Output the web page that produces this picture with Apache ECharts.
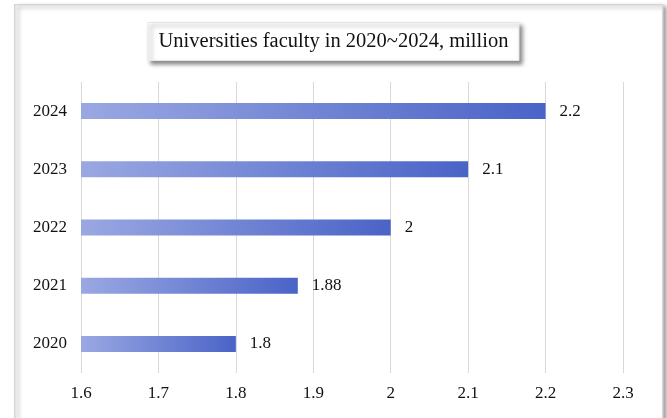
<!DOCTYPE html>
<html>
<head>
<meta charset="utf-8">
<script src="https://cdn.jsdelivr.net/npm/echarts@6/dist/echarts.min.js"></script>
<style>
html,body{margin:0;padding:0;background:#fff;}
#main{width:667px;height:418px;}
</style>
</head>
<body>
<div id="main"></div>
<script>
const titleText = 'Universities faculty in 2020~2024, million';
const categories = ['2020', '2021', '2022', '2023', '2024'];
const values = [1.8, 1.88, 2, 2.1, 2.2];
const xTicks = [1.6, 1.7, 1.8, 1.9, 2, 2.1, 2.2, 2.3];

const chart = echarts.init(document.getElementById('main'), null, {renderer: 'canvas'});
const font = 'Liberation Serif, Times New Roman, serif';
chart.setOption({
  animation: false,
  graphic: [{
    type: 'rect',
    left: 14, top: 4, z: -10,
    shape: {x: 0, y: 0, width: 648, height: 430},
    style: {fill: '#fff', stroke: '#d6d6d6', lineWidth: 1.5,
      shadowBlur: 4, shadowOffsetX: 3, shadowOffsetY: 2, shadowColor: 'rgba(0,0,0,0.35)'}
  }],
  title: {
    text: titleText,
    left: 'center',
    top: 22,
    padding: [9, 11, 9, 11],
    backgroundColor: '#fff',
    borderColor: '#e6e6e6',
    borderWidth: 1,
    shadowBlur: 4,
    shadowOffsetX: 3,
    shadowOffsetY: 3,
    shadowColor: 'rgba(0,0,0,0.45)',
    textStyle: {fontFamily: font, fontSize: 20.5, fontWeight: 'normal', color: '#111'}
  },
  grid: {left: 81, right: 44, top: 82, bottom: 45, containLabel: false},
  xAxis: {
    type: 'value',
    min: xTicks[0],
    max: xTicks[xTicks.length - 1],
    interval: 0.1,
    axisLine: {show: false},
    axisTick: {show: false},
    splitLine: {show: true, lineStyle: {color: '#d9d9d9', width: 1}},
    axisLabel: {fontFamily: font, fontSize: 17, color: '#111', margin: 12,
      formatter: v => String(Math.round(v * 10) / 10)}
  },
  yAxis: {
    type: 'category',
    data: categories,
    axisLine: {show: false},
    axisTick: {show: false},
    axisLabel: {fontFamily: font, fontSize: 17, color: '#111', margin: 14}
  },
  series: [{
    type: 'bar',
    data: values,
    barWidth: 16,
    itemStyle: {
      color: new echarts.graphic.LinearGradient(0, 0, 1, 0, [
        {offset: 0, color: '#9aa8e2'},
        {offset: 1, color: '#4a63c7'}
      ])
    },
    label: {show: true, position: 'right', distance: 14,
      fontFamily: font, fontSize: 17, color: '#111'}
  }]
});
</script>
</body>
</html>
